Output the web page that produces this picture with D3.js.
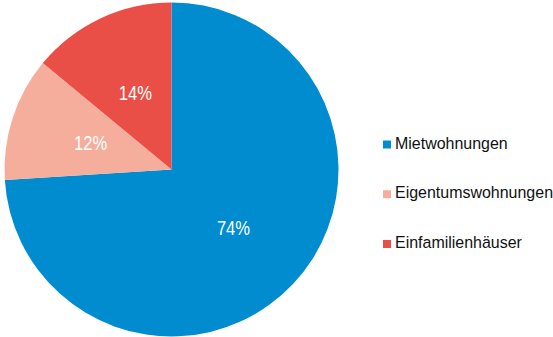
<!DOCTYPE html>
<html>
<head>
<meta charset="utf-8">
<script src="https://cdn.jsdelivr.net/npm/d3@7"></script>
<style>
  html, body { margin: 0; padding: 0; background: #fff; }
  svg { display: block; font-family: "Liberation Sans", Arial, sans-serif; }
</style>
</head>
<body>
<svg id="chart" width="553" height="337"></svg>
<script>
// Housing types, share in percent
const categories = ["Mietwohnungen", "Eigentumswohnungen", "Einfamilienhäuser"];
const values = [74, 12, 14];
const colors = ["#008ccf", "#f5ae9c", "#ea4f47"];

const svg = d3.select("#chart");
const cx = 171.5, cy = 169.5, radius = 167;

const color = d3.scaleOrdinal().domain(categories).range(colors);

const pie = d3.pie().sort(null).value(d => d.value);
const data = pie(categories.map((c, i) => ({ name: c, value: values[i] })));

const arc = d3.arc().innerRadius(0).outerRadius(radius);
const labelArc = d3.arc().innerRadius(85).outerRadius(85);

const g = svg.append("g").attr("transform", `translate(${cx},${cy})`);

g.selectAll("path.slice")
  .data(data)
  .join("path")
  .attr("class", "slice")
  .attr("d", arc)
  .attr("fill", d => color(d.data.name));

// Percent labels, horizontally condensed
g.selectAll("text.pct")
  .data(data)
  .join("text")
  .attr("class", "pct")
  .attr("transform", d => {
    const [x, y] = labelArc.centroid(d);
    return `translate(${x},${y + 7}) scale(0.85,1)`;
  })
  .attr("text-anchor", "middle")
  .attr("fill", "#fff")
  .attr("font-size", 19.5)
  .text(d => d.data.value + "%");

// Legend
const legend = svg.append("g").attr("transform", "translate(383,0)");
const rowY = d3.scalePoint().domain(categories).range([148.5, 248]);

const rows = legend.selectAll("g.row")
  .data(categories)
  .join("g")
  .attr("class", "row")
  .attr("transform", d => `translate(0,${rowY(d)})`);

rows.append("rect")
  .attr("x", 0).attr("y", -8)
  .attr("width", 8).attr("height", 8)
  .attr("fill", d => color(d));

rows.append("text")
  .attr("transform", "translate(12,0) scale(0.94,1)")
  .attr("fill", "#111")
  .attr("font-size", 17)
  .text(d => d);
</script>
</body>
</html>
